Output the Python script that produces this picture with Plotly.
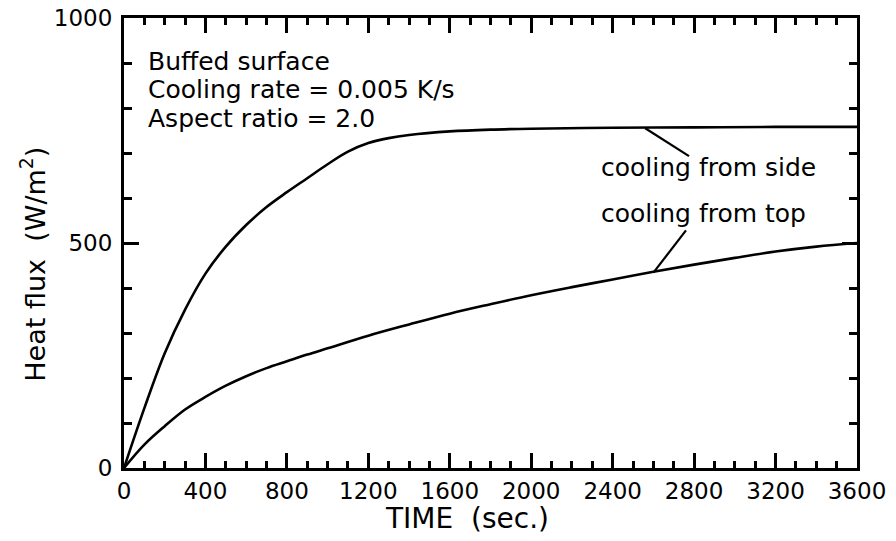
import plotly.graph_objects as go

# ---- data ----
side_time = [0, 100, 200, 300, 400, 500, 600, 700, 800, 900, 1000, 1100, 1200, 1300, 1400, 1600, 1800, 2000, 2400, 2800, 3200, 3600]
side_flux = [0, 133, 255, 352, 432, 492, 540, 580, 613, 644, 675, 703, 722, 733, 740, 748, 752, 754, 756, 757, 758, 758]

top_time = [0, 100, 200, 300, 400, 500, 600, 700, 800, 900, 1000, 1200, 1400, 1600, 1800, 2000, 2200, 2400, 2600, 2800, 3000, 3200, 3400, 3600]
top_flux = [0, 52, 93, 130, 158, 183, 204, 222, 237, 252, 266, 294, 319, 343, 364, 384, 402, 419, 436, 452, 467, 481, 492, 500]

x_ticks = [0, 400, 800, 1200, 1600, 2000, 2400, 2800, 3200, 3600]
y_ticks = [0, 500, 1000]

info_lines = ["Buffed surface", "Cooling rate = 0.005 K/s", "Aspect ratio = 2.0"]
series_labels = ["cooling from side", "cooling from top"]

FONT = "DejaVu Sans"

fig = go.Figure()
for xs, ys in ((side_time, side_flux), (top_time, top_flux)):
    fig.add_trace(go.Scatter(x=xs, y=ys, mode="lines",
                             line=dict(color="black", width=2.6, shape="spline", smoothing=1.0),
                             showlegend=False, cliponaxis=True))

axis_common = dict(
    showline=True, linewidth=3, linecolor="black", mirror="ticks",
    ticks="inside", tickwidth=2.5, tickcolor="black", ticklen=15,
    showgrid=False, zeroline=False, automargin=False,
    ticklabeloverflow="allow",
    tickfont=dict(family=FONT, size=23, color="black"),
)

fig.update_xaxes(range=[0, 3600], tickvals=x_ticks, ticktext=[str(v) for v in x_ticks],
                 minor=dict(ticks="inside", dtick=100, tick0=0, ticklen=7, tickwidth=2.5, tickcolor="black"),
                 ticklabelstandoff=0, **axis_common)
fig.update_yaxes(range=[0, 1000], tickvals=y_ticks, ticktext=[str(v) for v in y_ticks],
                 minor=dict(ticks="inside", dtick=100, tick0=0, ticklen=8, tickwidth=2.5, tickcolor="black"),
                 ticklabelstandoff=4, **axis_common)

annotations = []
info_y = [904, 841, 777]
for txt, yv in zip(info_lines, info_y):
    annotations.append(dict(x=108, y=yv, xref="x", yref="y", text=txt, showarrow=False,
                            xanchor="left", yanchor="middle", font=dict(family=FONT, size=25, color="black")))
label_pos = [(2334, 667), (2334, 565)]
for txt, (xv, yv) in zip(series_labels, label_pos):
    annotations.append(dict(x=xv, y=yv, xref="x", yref="y", text=txt, showarrow=False,
                            xanchor="left", yanchor="middle", font=dict(family=FONT, size=25, color="black")))
annotations.append(dict(x=0.468, y=-0.113, xref="paper", yref="paper", text="TIME&nbsp;&nbsp;(sec.)",
                        showarrow=False, xanchor="center", yanchor="middle",
                        font=dict(family=FONT, size=28, color="black")))
annotations.append(dict(x=-0.124, y=0.452, xref="paper", yref="paper", text="Heat flux&nbsp;&nbsp;(W/m<sup>2</sup>)",
                        showarrow=False, textangle=-90, xanchor="center", yanchor="middle",
                        font=dict(family=FONT, size=27, color="black")))

# leader lines from curves to labels
leaders = [((2560, 755), (2775, 693)), ((2600, 434), (2760, 528))]
shapes = [dict(type="line", xref="x", yref="y", x0=a[0], y0=a[1], x1=b[0], y1=b[1],
               line=dict(color="black", width=2.2)) for a, b in leaders]

# the page body has an 8px default margin, so the figure is 8px smaller
fig.update_layout(
    width=888, height=533,
    margin=dict(l=116, r=39, t=10, b=73, autoexpand=False),
    paper_bgcolor="white", plot_bgcolor="white",
    annotations=annotations, shapes=shapes,
    font=dict(family=FONT, color="black"),
)

fig.write_html("out.html")
